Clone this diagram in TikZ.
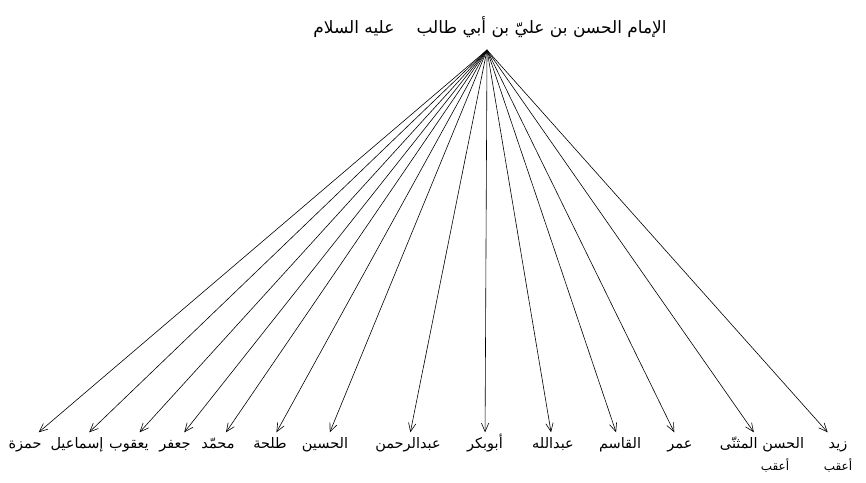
\documentclass[tikz,border=0pt]{standalone}
\usepackage{fontspec}
\newfontfamily\arabicfont[Script=Arabic]{DejaVu Sans}
\TeXXeTstate=1
\usetikzlibrary{arrows.meta,positioning}

\begin{document}
\begin{tikzpicture}[
  x=1pt, y=-1pt,
  head/.style={font=\arabicfont\fontsize{17}{20}\selectfont, inner sep=2pt},
  son/.style={font=\arabicfont\fontsize{14.5}{17}\selectfont, inner sep=3pt, text height=13pt, text depth=4pt},
  note/.style={font=\arabicfont\fontsize{12}{14}\selectfont, inner sep=1pt, text height=10pt, text depth=3pt},
  arr/.style={-{Straight Barb[length=3mm,width=2.6mm]}, semithick}
]
\useasboundingbox[fill=white] (0,0) rectangle (866,482);

\node[head] (imam) at (490,27) {\beginR الإمام الحسن بن عليّ بن أبي طالب\hspace{22pt}عليه السلام\endR};
\coordinate (apex) at (487,50);

\node[son] (zayd) at (838,444) {\beginR زيد\endR};
\node[son] (muthanna) at (762,444) {\beginR الحسن المثنّى\endR};
\node[son] (umar) at (680,444) {\beginR عمر\endR};
\node[son] (qasim) at (620,444) {\beginR القاسم\endR};
\node[son] (abdallah) at (553,444) {\beginR عبدالله\endR};
\node[son] (abubakr) at (485,444) {\beginR أبوبكر\endR};
\node[son] (abdalrahman) at (408,444) {\beginR عبدالرحمن\endR};
\node[son] (husayn) at (325,444) {\beginR الحسين\endR};
\node[son] (talha) at (270,444) {\beginR طلحة\endR};
\node[son] (muhammad) at (218,444) {\beginR محمّد\endR};
\node[son] (jafar) at (175,444) {\beginR جعفر\endR};
\node[son] (yaqub) at (129,444) {\beginR يعقوب\endR};
\node[son] (ismail) at (77,444) {\beginR إسماعيل\endR};
\node[son] (hamza) at (25,444) {\beginR حمزة\endR};

\node[note] (aqab1) at (838,467) {\beginR أعقب\endR};
\node[note] (aqab2) at (775,467) {\beginR أعقب\endR};

\draw[arr] (apex) -- (zayd);
\draw[arr] (apex) -- (muthanna);
\draw[arr] (apex) -- (umar);
\draw[arr] (apex) -- (qasim);
\draw[arr] (apex) -- (abdallah);
\draw[arr] (apex) -- (abubakr);
\draw[arr] (apex) -- (abdalrahman);
\draw[arr] (apex) -- (husayn);
\draw[arr] (apex) -- (talha);
\draw[arr] (apex) -- (muhammad);
\draw[arr] (apex) -- (jafar);
\draw[arr] (apex) -- (yaqub);
\draw[arr] (apex) -- (ismail);
\draw[arr] (apex) -- (hamza);
\end{tikzpicture}
\end{document}
